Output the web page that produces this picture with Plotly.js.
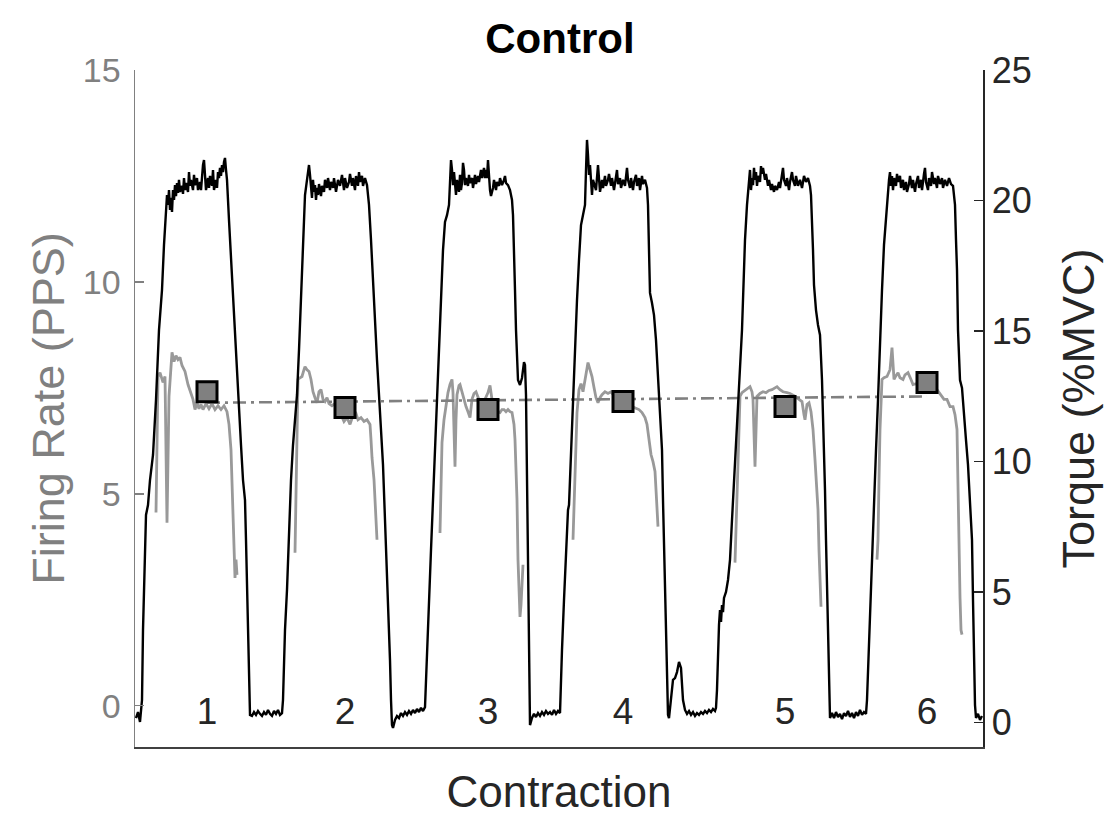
<!DOCTYPE html>
<html>
<head>
<meta charset="utf-8">
<script src="https://cdn.plot.ly/plotly-3.0.1.min.js"></script>
<style>html,body{margin:0;padding:0;background:#fff;}#chart{width:1111px;height:816px;}</style>
</head>
<body>
<div id="chart"></div>
<script>
// Torque (%MVC) trace: [time, value]
const torquePairs = [
[1,0.17],[3,0.40],[5,0.02],[7,0.86],[8,3.54],[10,6.23],[11,7.95],[13,8.33],[15,9.29],[18,10.25],[21,12.36],[24,15.04],[27,16.57],[29,18.30],[31,19.52],[32,20.21],
[33,19.83],[34,20.40],[35,19.64],[36,20.10],[37,19.56],[38,20.40],[39,20.02],[40,20.59],[41,20.17],[42,20.67],[43,20.29],[44,20.79],[45,20.33],[47,20.56],[48,20.25],[49,20.86],[50,20.40],[51,20.67],[53,20.33],[54,21.09],[55,20.56],[56,20.79],[58,20.40],[59,20.98],[60,20.59],[62,20.86],[63,20.40],[65,20.71],[66,20.40],[67,21.02],[68,21.36],[69,21.55],[70,20.79],[71,20.40],[73,20.86],[74,20.48],[75,20.94],[77,20.56],[78,21.17],[79,20.40],[81,20.79],[82,20.48],[83,21.09],[84,20.86],[85,21.25],[86,20.94],[87,21.36],[88,21.09],[89,21.48],[90,21.63],[91,21.17],[92,20.79],[94,19.25],[96,17.72],[98,16.19],[100,14.85],[102,13.51],[104,11.97],[106,10.63],[108,9.29],[110,8.52],[111,6.99],[112,5.08],[113,3.16],[114,1.25],[115,0.29],
[117,0.25],[119,0.40],[121,0.29],[123,0.44],[125,0.33],[127,0.25],[129,0.40],[131,0.29],[133,0.48],[135,0.33],[137,0.25],[139,0.44],[141,0.33],[143,0.48],[145,0.29],[147,0.36],
[148,0.86],[149,2.39],[150,3.54],[152,5.08],[154,7.38],[156,9.29],[158,10.63],[160,11.59],[162,12.55],[164,14.27],[166,16.19],[167,17.34],[169,19.25],[170,20.21],[172,20.79],[173,21.09],[174,21.36],[175,20.98],[176,20.40],[177,20.10],[178,20.79],[179,20.33],[180,20.59],[181,20.02],[182,20.48],[183,20.21],[184,20.63],[186,20.17],[187,20.56],[189,20.33],[190,20.79],[192,20.48],[193,20.86],[195,20.40],[196,20.71],[198,20.48],[199,20.86],[201,20.33],[203,20.79],[205,20.56],[207,20.98],[209,20.40],[210,20.86],[212,20.48],[214,20.71],[215,21.02],[217,20.56],[218,20.86],[220,20.40],[221,20.94],[223,20.56],[224,21.09],[225,20.71],[227,20.94],[228,20.56],[230,20.86],[232,20.59],[234,19.83],[236,18.49],[238,16.95],[240,15.04],[242,13.89],[244,12.55],[246,11.21],[248,9.87],[250,7.76],[252,5.84],[254,3.93],[255,2.39],[256,0.86],[257,-0.10],[258,-0.21],[260,0.10],[262,0.25],[264,0.17],[266,0.36],[268,0.25],[270,0.40],[272,0.29],[274,0.44],[276,0.33],[278,0.48],[280,0.36],[282,0.52],[284,0.40],[286,0.56],[288,0.44],[290,0.59],
[291,1.63],[292,3.16],[294,4.69],[296,6.61],[298,8.52],[300,10.44],[302,12.36],[304,14.27],[306,16.19],[308,18.10],[310,19.18],[312,19.44],[314,19.83],[315,20.59],[316,21.55],[317,21.17],[318,20.59],[319,21.09],[320,20.40],[321,20.21],[322,20.79],[323,20.48],[324,20.33],[325,20.98],[326,20.40],[327,20.67],[328,21.44],[329,21.17],[330,20.59],[331,20.86],[333,20.56],[334,20.98],[335,20.67],[337,20.86],[338,20.48],[340,20.98],[341,20.63],[343,20.94],[344,20.71],[346,21.17],[347,20.86],[349,21.25],[350,20.86],[351,21.17],[352,20.86],[353,21.55],[354,20.86],[355,20.40],[356,20.17],[358,20.48],[359,20.79],[361,20.40],[362,20.71],[364,20.56],[365,20.86],[367,20.59],[369,20.79],[370,20.94],[371,20.67],[373,20.59],[375,20.40],[377,20.02],[378,19.44],[379,18.30],[380,16.57],[381,15.04],[382,13.89],[383,13.12],[385,12.93],[387,13.20],[389,13.81],[390,13.70],[391,12.55],[392,9.29],[393,5.46],[394,1.63],[395,-0.10],
[397,0.17],[399,0.33],[401,0.21],[403,0.36],[405,0.25],[407,0.40],[409,0.29],[411,0.44],[413,0.33],[415,0.40],[417,0.29],[419,0.48],[421,0.33],[423,0.44],[425,0.36],
[426,1.25],[427,2.78],[429,4.69],[431,6.61],[433,8.14],[434,8.33],[436,10.44],[438,12.36],[440,14.46],[442,16.19],[444,17.72],[446,19.06],[448,19.44],[450,19.83],[451,21.17],[452,22.32],[453,21.74],[454,20.98],[455,21.36],[456,20.59],[457,20.21],[458,20.79],[461,20.40],[463,21.36],[464,20.59],[465,20.33],[467,20.79],[468,20.48],[470,20.94],[471,20.56],[473,20.79],[474,21.02],[476,20.56],[477,20.86],[479,20.40],[480,20.71],[482,21.17],[483,20.63],[485,20.86],[486,20.48],[488,20.79],[490,20.56],[492,21.25],[493,20.79],[495,20.48],[496,20.86],[498,20.40],[499,20.71],[501,20.98],[502,20.56],[504,20.86],[505,20.40],[507,20.94],[508,20.63],[510,20.79],[512,20.48],[513,19.83],[514,18.10],[515,16.46],[517,16.07],[519,15.61],[521,14.65],[523,13.12],[525,11.59],[527,10.44],[528,8.52],[529,6.61],[530,5.08],[531,3.54],[532,2.01],[533,0.29],[534,0.17],[536,0.86],[538,1.63],[540,1.70],[542,1.93],[544,2.32],[546,2.09],[548,0.86],[550,0.48],[552,0.33],[554,0.44],[556,0.29],[558,0.40],[560,0.25],[562,0.36],[564,0.29],[566,0.40],[568,0.33],[570,0.44],[572,0.36],[574,0.48],[576,0.40],[578,0.52],[580,0.44],[581,0.56],
[582,1.25],[583,3.16],[584,3.74],[585,4.31],[586,3.85],[587,4.50],[588,4.23],[589,4.77],[591,5.00],[593,5.46],[595,6.23],[597,7.76],[599,9.29],[601,10.82],[603,12.36],[605,13.70],[607,15.04],[609,17.34],[610,18.49],[612,19.83],[613,20.29],[614,20.79],[615,21.17],[616,20.40],[617,20.86],[618,20.59],[619,21.25],[620,20.79],[621,21.09],[622,20.56],[623,20.94],[625,20.71],[626,21.32],[627,21.02],[628,21.25],[630,20.79],[631,21.02],[633,20.56],[634,20.79],[636,20.40],[637,20.63],[639,20.33],[640,20.56],[642,20.40],[644,20.71],[645,20.48],[647,20.94],[648,21.25],[649,20.79],[651,20.56],[652,20.86],[654,20.40],[655,20.71],[657,21.09],[658,20.79],[660,20.56],[661,20.94],[663,20.56],[665,20.79],[667,20.48],[669,20.94],[671,20.71],[673,20.86],[675,20.56],[676,20.21],[677,19.44],[678,18.10],[679,16.76],[681,15.80],[683,15.23],[685,14.85],[687,13.12],[689,10.82],[690,8.91],[691,6.99],[692,5.08],[693,3.16],[694,1.25],[695,0.17],
[697,0.36],[699,0.17],[701,0.40],[703,0.21],[705,0.33],[707,0.13],[709,0.36],[711,0.25],[713,0.44],[715,0.21],[717,0.36],[719,0.17],[721,0.40],[723,0.25],[725,0.48],[727,0.29],[729,0.40],[731,0.33],
[732,0.86],[733,2.01],[735,3.93],[737,6.23],[739,8.52],[741,10.44],[743,12.36],[745,14.65],[747,16.57],[749,18.30],[751,19.44],[753,20.40],[754,20.79],[755,21.09],[756,20.56],[757,20.94],[758,20.40],[759,20.86],[761,20.56],[762,21.02],[763,20.71],[765,20.94],[766,20.48],[768,20.79],[769,20.40],[771,20.71],[772,20.33],[774,20.63],[775,20.94],[777,20.48],[778,20.79],[780,20.33],[781,20.63],[783,20.94],[784,20.48],[786,20.79],[787,20.40],[789,21.02],[790,21.25],[791,20.71],[793,20.40],[794,20.86],[796,20.56],[797,21.09],[799,20.63],[800,20.86],[802,20.48],[803,20.94],[805,20.63],[807,20.86],[808,20.48],[810,20.79],[812,20.56],[814,20.86],[816,20.63],[818,20.56],[819,20.21],[820,19.83],[821,18.49],[822,17.34],[823,15.04],[824,13.89],[825,13.12],[827,12.82],[829,11.97],[831,10.82],[833,9.87],[835,8.52],[837,6.99],[838,4.69],[839,2.39],[840,0.67],[841,0.17],[843,0.33],[845,0.10],[847,0.25]
];

// Firing rate (PPS) per contraction: [time, value]
const firing1 = [[21,4.56],[23,7.77],[25,7.86],[28,7.63],[30,7.77],[32,4.32],[34,7.30],[36,8.17],[37,8.34],[39,8.12],[41,8.26],[43,8.17],[45,8.22],[47,8.03],[50,7.89],[53,7.58],[56,7.34],[58,7.23],[60,6.99],[62,7.15],[64,7.01],[66,7.11],[68,6.99],[71,7.13],[74,7.01],[77,7.13],[80,6.99],[83,7.08],[86,6.99],[89,7.08],[92,6.94],[94,6.64],[96,6.04],[97,5.34],[98,4.39],[99,3.45],[100,3.02],[101,3.45],[102,3.09]];
const firing2 = [[160,3.61],[162,6.52],[163,7.70],[165,7.74],[167,7.77],[169,7.93],[170,8.00],[172,7.93],[174,7.89],[176,7.70],[178,7.41],[180,7.27],[182,7.15],[184,7.41],[186,7.46],[188,7.23],[190,7.18],[192,7.27],[194,7.13],[197,7.08],[200,7.13],[203,6.99],[206,6.87],[209,6.71],[212,6.80],[215,6.64],[218,6.85],[221,6.90],[223,6.75],[226,6.80],[229,6.71],[232,6.75],[235,6.64],[236,6.28],[237,5.86],[239,5.34],[240,4.86],[241,4.39],[242,3.92]];
const firing3 = [[305,4.08],[306,5.34],[307,6.21],[309,6.75],[311,7.11],[313,7.39],[315,7.58],[317,7.70],[318,7.39],[320,5.64],[321,6.75],[322,7.34],[324,7.56],[325,7.58],[327,7.41],[329,7.23],[331,7.06],[333,6.94],[335,6.80],[337,7.23],[339,7.37],[341,7.41],[343,7.27],[345,7.13],[347,7.04],[349,7.18],[351,7.27],[353,7.39],[355,7.56],[357,7.23],[359,7.04],[361,6.99],[363,6.94],[365,6.92],[367,6.99],[369,6.99],[371,6.94],[373,6.99],[375,6.94],[377,6.92],[379,6.64],[380,6.28],[381,5.57],[382,4.86],[383,3.45],[384,2.50],[385,2.10],[386,2.38],[387,2.74],[388,3.33]];
const firing4 = [[438,3.92],[440,5.34],[442,6.92],[444,7.46],[446,7.60],[448,7.41],[450,7.70],[452,7.98],[453,8.10],[455,7.93],[457,7.77],[459,7.51],[461,7.27],[463,7.15],[465,7.27],[467,7.34],[470,7.41],[473,7.37],[476,7.41],[479,7.32],[482,7.23],[485,7.18],[489,7.13],[493,7.08],[497,7.06],[501,7.01],[504,6.99],[507,6.92],[510,6.80],[512,6.64],[514,6.28],[516,5.93],[518,5.76],[520,5.53],[521,5.10],[522,4.75],[523,4.23]];
const firing5 = [[600,3.38],[602,4.94],[603,6.28],[605,7.30],[607,7.39],[610,7.44],[613,7.49],[615,7.53],[617,7.41],[618,7.23],[620,5.64],[621,6.52],[622,7.30],[625,7.37],[628,7.41],[631,7.39],[634,7.44],[637,7.46],[640,7.51],[642,7.53],[645,7.46],[648,7.41],[652,7.39],[655,7.37],[659,7.32],[662,7.27],[665,7.23],[667,7.18],[669,6.87],[670,6.75],[672,7.11],[674,7.15],[676,6.94],[678,6.52],[680,5.81],[682,5.10],[683,4.63],[684,3.68],[685,2.86],[686,2.34]];
const firing6 = [[742,3.45],[743,3.92],[744,5.34],[745,6.52],[747,7.70],[749,7.74],[752,7.77],[754,7.89],[755,7.93],[757,8.45],[759,7.70],[761,7.79],[763,7.86],[765,7.74],[768,7.70],[770,7.81],[773,7.86],[776,7.70],[778,7.58],[781,7.60],[785,7.51],[789,7.53],[793,7.56],[797,7.49],[800,7.51],[802,7.46],[805,7.37],[807,7.30],[809,7.23],[812,7.23],[815,7.06],[818,7.06],[820,6.87],[822,6.52],[823,4.94],[824,3.68],[825,2.57],[826,1.79],[827,1.68]];

// Mean firing rate per contraction
const contractionLabels = ["1","2","3","4","5","6"];
const contractionTime = [72, 210, 353, 488, 650, 792];
const meanFiring = [7.41, 7.04, 6.99, 7.18, 7.06, 7.63];
// Trend line across contractions
const trendTime = [72, 792];
const trendFiring = [7.15, 7.30];

const fx = [], fy = [];
[firing1, firing2, firing3, firing4, firing5, firing6].forEach(seg => {
  seg.forEach(p => { fx.push(p[0]); fy.push(p[1]); });
  fx.push(null); fy.push(null);
});

const FONT = "Liberation Sans, Arial, sans-serif";
const GRAY = "#808080";
const DARK = "#262626";

const traces = [
  {x: torquePairs.map(p => p[0]), y: torquePairs.map(p => p[1]), yaxis: "y2", type: "scatter", mode: "lines",
   line: {color: "#000000", width: 2.4}, hoverinfo: "skip"},
  {x: fx, y: fy, type: "scatter", mode: "lines", connectgaps: false,
   line: {color: "#999999", width: 2.8}, hoverinfo: "skip"},
  {x: trendTime, y: trendFiring, type: "scatter", mode: "lines",
   line: {color: GRAY, width: 2.6, dash: "13px,5px,3px,5px"}},
  {x: contractionTime, y: meanFiring, type: "scatter", mode: "markers",
   marker: {symbol: "square", size: 20, color: GRAY, line: {color: "#000000", width: 3}}},
  {x: contractionTime, y: contractionLabels.map(() => -0.2), type: "scatter", mode: "text",
   text: contractionLabels, textposition: "middle center",
   textfont: {family: FONT, size: 37, color: DARK}}
];

const layout = {
  width: 1111, height: 816,
  margin: {l: 135, r: 128, t: 70, b: 69},
  paper_bgcolor: "#ffffff", plot_bgcolor: "#ffffff",
  showlegend: false,
  font: {family: FONT},
  title: {text: "<b>Control</b>", font: {family: FONT, size: 42, color: "#000000"},
          x: 0.504, xanchor: "center", y: 0.953, yanchor: "middle", yref: "container"},
  xaxis: {range: [0, 848], showticklabels: false, ticks: "", showgrid: false, zeroline: false,
          showline: true, linecolor: "#404040", linewidth: 1.5, mirror: false,
          title: {text: "Contraction", font: {family: FONT, size: 44, color: DARK}, standoff: 30}},
  yaxis: {range: [-0.97, 15], tickvals: [0, 5, 10, 15], ticks: "inside", ticklen: 9, tickcolor: GRAY, tickwidth: 1.2,
          showgrid: false, zeroline: false, showline: true, linecolor: GRAY, linewidth: 1.5,
          tickfont: {family: FONT, size: 34, color: GRAY}, ticklabelstandoff: 6,
          title: {text: "Firing Rate (PPS)", font: {family: FONT, size: 45, color: GRAY}, standoff: 4}},
  yaxis2: {range: [-0.94, 25], tickvals: [0, 5, 10, 15, 20, 25], overlaying: "y", side: "right",
           ticks: "inside", ticklen: 9, tickcolor: DARK, tickwidth: 1.2,
           showgrid: false, zeroline: false, showline: true, linecolor: DARK, linewidth: 1.5,
           tickfont: {family: FONT, size: 36, color: DARK}, ticklabelstandoff: 0,
           title: {text: "Torque (%MVC)", font: {family: FONT, size: 45, color: DARK}, standoff: 32}}
};

Plotly.newPlot("chart", traces, layout, {displayModeBar: false, staticPlot: true});
</script>
</body>
</html>
